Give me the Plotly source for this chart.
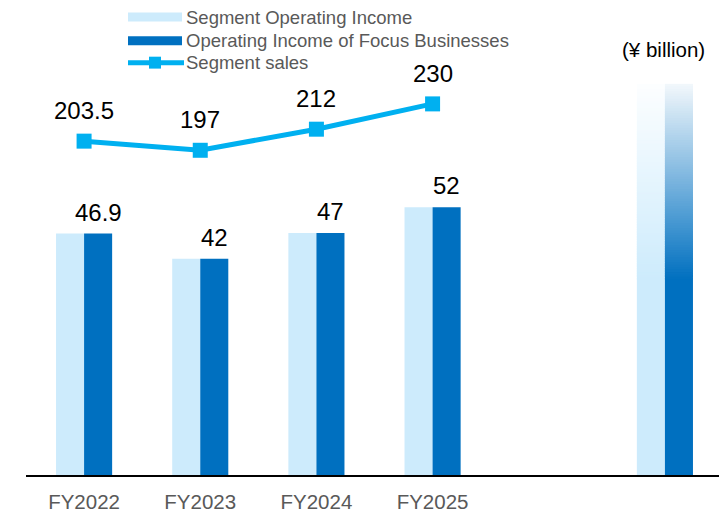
import plotly.graph_objects as go

# ---------------- data ----------------
categories = ["FY2022", "FY2023", "FY2024", "FY2025"]
segment_operating_income = [46.9, 42, 47, 52]
focus_operating_income = [46.9, 42, 47, 52]
segment_sales = [203.5, 197, 212, 230]
income_labels = ["46.9", "42", "47", "52"]
sales_labels = ["203.5", "197", "212", "230"]
slots = categories + ["gap", "target"]
target_slot = "target"
target_top = 76          # top of faded future bars
target_solid_until = 38  # solid colour below this, fading above

# ---------------- style ----------------
LIGHT = "#CDEBFC"
DARK = "#0070C0"
LINE = "#00B0F0"
GREY = "#595959"
FONT = "Arial, Liberation Sans, sans-serif"

# the page body adds an 8px margin, so work in page pixels minus 8
OFF = 8
W, H = 727 - OFF, 513 - OFF
AXIS_Y = 478          # page y of the x axis line
PLOT_L, PLOT_R = 26, 723
ML = PLOT_L - OFF
MR = W - (PLOT_R - OFF)
MT = 0
MB = H - (AXIS_Y - OFF)
PW, PH = W - ML - MR, H - MT - MB
PX_PER_UNIT = 5.18     # bar axis scale
PX_PER_UNIT2 = 1.415   # sales axis scale
TOP_PAGE = OFF + MT    # page y of the plot top


def px_x(p):
    return (p - PLOT_L) / PW


def px_y(p):
    return (AXIS_Y - p) / PH


def mix(hex_color, t):
    h = hex_color.lstrip("#")
    r, g, b = int(h[0:2], 16), int(h[2:4], 16), int(h[4:6], 16)
    r = round(r + (255 - r) * t)
    g = round(g + (255 - g) * t)
    b = round(b + (255 - b) * t)
    return f"rgb({r},{g},{b})"


fig = go.Figure()

fig.add_trace(go.Bar(
    x=categories, y=segment_operating_income, name="Segment Operating Income",
    marker=dict(color=LIGHT, line=dict(width=0)), offsetgroup="a", showlegend=False,
))
fig.add_trace(go.Bar(
    x=categories, y=focus_operating_income, name="Operating Income of Focus Businesses",
    marker=dict(color=DARK, line=dict(width=0)), offsetgroup="b", showlegend=False,
))


def gradient_trace(color, group, name, tmax):
    n = 80
    step = (target_top - target_solid_until) / n
    bases = [0]
    heights = [target_solid_until + step * 0.5]
    colors = [color]
    for i in range(n):
        b = target_solid_until + i * step
        t = (i + 0.5) / n
        bases.append(b)
        heights.append(min(step * 1.8, target_top - b))
        colors.append(mix(color, t * tmax))
    return go.Bar(
        x=[target_slot] * len(bases), y=heights, base=bases, name=name,
        marker=dict(color=colors, line=dict(width=0)), offsetgroup=group,
        showlegend=False, hoverinfo="skip",
    )


fig.add_trace(gradient_trace(LIGHT, "a", "Segment Operating Income (target)", 0.95))
fig.add_trace(gradient_trace(DARK, "b", "Operating Income of Focus Businesses (target)", 0.95))

fig.add_trace(go.Scatter(
    x=categories, y=segment_sales, name="Segment sales", yaxis="y2",
    mode="lines+markers", line=dict(color=LINE, width=5),
    marker=dict(symbol="square", size=15, color=LINE), showlegend=False,
))

annotations = []
for c, v, lab in zip(categories, focus_operating_income, income_labels):
    annotations.append(dict(x=c, y=v, xref="x", yref="y", text=lab, showarrow=False,
                            xshift=14, yshift=6, xanchor="center", yanchor="bottom",
                            font=dict(size=24, color="#000000", family=FONT)))
for c, v, lab in zip(categories, segment_sales, sales_labels):
    annotations.append(dict(x=c, y=v, xref="x", yref="y2", text=lab, showarrow=False,
                            yshift=15, xanchor="center", yanchor="bottom",
                            font=dict(size=24, color="#000000", family=FONT)))

annotations.append(dict(x=px_x(663), y=px_y(50), xref="paper", yref="paper",
                        text="(¥ billion)", showarrow=False,
                        xanchor="center", yanchor="middle",
                        font=dict(size=20.5, color="#000000", family=FONT)))

# custom legend
legend_rows = [("Segment Operating Income", 17.5), ("Operating Income of Focus Businesses", 41),
               ("Segment sales", 63)]
shapes = []
for label, yy in legend_rows:
    annotations.append(dict(x=px_x(185), y=px_y(yy), xref="paper", yref="paper", text=label,
                            showarrow=False, xanchor="left", yanchor="middle", borderpad=0,
                            font=dict(size=18.5, color=GREY, family=FONT)))
shapes.append(dict(type="rect", xref="paper", yref="paper", x0=px_x(128), x1=px_x(182),
                   y0=px_y(12.5), y1=px_y(21.5), fillcolor=LIGHT, line=dict(width=0)))
shapes.append(dict(type="rect", xref="paper", yref="paper", x0=px_x(128), x1=px_x(182),
                   y0=px_y(36.5), y1=px_y(45.5), fillcolor=DARK, line=dict(width=0)))
shapes.append(dict(type="line", xref="paper", yref="paper", x0=px_x(128), x1=px_x(184),
                   y0=px_y(63), y1=px_y(63), line=dict(color=LINE, width=5)))
shapes.append(dict(type="rect", xref="paper", yref="paper", x0=px_x(149), x1=px_x(161),
                   y0=px_y(57), y1=px_y(69), fillcolor=LINE, line=dict(width=0)))

y_top = (AXIS_Y - TOP_PAGE) / PX_PER_UNIT
y2_bot = 203.5 - (AXIS_Y - 142) / PX_PER_UNIT2
y2_top = 203.5 + (142 - TOP_PAGE) / PX_PER_UNIT2

fig.update_layout(
    width=W, height=H,
    margin=dict(l=ML, r=MR, t=MT, b=MB, pad=0),
    paper_bgcolor="white", plot_bgcolor="white",
    barmode="group", bargap=0.517, bargroupgap=0,
    showlegend=False,
    font=dict(family=FONT),
    xaxis=dict(type="category", categoryorder="array", categoryarray=slots,
               tickvals=categories, ticktext=categories, showgrid=False,
               showline=True, linecolor="#000000", linewidth=2, ticks="",
               ticklabelstandoff=7,
               tickfont=dict(size=20.5, color=GREY, family=FONT), zeroline=False,
               fixedrange=True),
    yaxis=dict(range=[0, y_top], visible=False, showgrid=False, zeroline=False),
    yaxis2=dict(range=[y2_bot, y2_top], overlaying="y",
                visible=False, showgrid=False, zeroline=False),
    annotations=annotations,
    shapes=shapes,
)

fig.write_html("out.html")
